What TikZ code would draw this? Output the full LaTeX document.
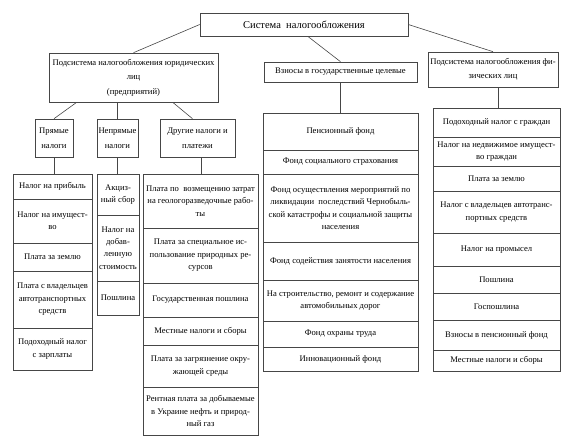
\documentclass[tikz,border=0pt]{standalone}
\usepackage{fontspec}
\setmainfont{Liberation Serif}
\usepackage{tikz}
\usetikzlibrary{positioning, calc}
\definecolor{cL}{RGB}{70,70,70}
\newcommand{\cellfont}{\fontsize{8.6}{12.4}\selectfont}
\newcommand{\headfont}{\fontsize{8.6}{14.5}\selectfont}

\begin{document}
\begin{tikzpicture}[x=1pt, y=-1pt,
    cell/.style={draw=cL, line width=0.6pt, inner sep=0pt, align=center, font=\cellfont},
    head/.style={cell, font=\headfont},
    link/.style={draw=cL, line width=0.6pt}]

    \useasboundingbox (0,0) rectangle (568,446);

    % Top level and the three subsystems
    \node [head, font=\fontsize{10.5}{12}\selectfont, minimum width=208pt, minimum height=23pt] (sys) at (304,24.5) {Система\ \ налогообложения};
    \node [head, minimum width=169pt, minimum height=49pt] (jur) at (133.5,77.5) {Подсистема налогообложения юридических\\лиц\\(предприятий)};
    \node [head, minimum width=153pt, minimum height=20pt] (vz) at (340.5,72) {Взносы в государственные целевые};
    \node [head, minimum width=130pt, minimum height=35pt] (fiz) at (493,69.5) {Подсистема налогообложения фи-\\зических лиц};

    % Second level of the legal-entity branch
    \node [head, minimum width=38pt, minimum height=38pt] (pr) at (54,138) {Прямые\\налоги};
    \node [head, minimum width=41pt, minimum height=38pt] (nepr) at (117.5,138) {Непрямые\\налоги};
    \node [head, minimum width=75pt, minimum height=38pt] (dr) at (197.5,138) {Другие налоги и\\платежи};

    % Columns of cells: index / top / bottom / text
    \foreach \k/\ta/\tb/\lbl in {1/174/199/{Налог на прибыль}, 2/199/243/{Налог на имущест-\\во}, 3/243/271/{Плата за землю}, 4/271/328/{Плата с владельцев\\автотранспортных\\средств}, 5/328/370/{Подоходный налог\\с зарплаты}}
        \node [cell, minimum width=79pt, minimum height={(\tb-\ta)*1pt}] (pr\k) at (52.5,{(\ta+\tb)/2}) {\lbl};

    \foreach \k/\ta/\tb/\lbl in {1/174/215/{Акциз-\\ный сбор}, 2/215/281/{Налог на\\добав-\\ленную\\стоимость}, 3/281/315/{Пошлина}}
        \node [cell, minimum width=42pt, minimum height={(\tb-\ta)*1pt}] (nepr\k) at (118,{(\ta+\tb)/2}) {\lbl};

    \foreach \k/\ta/\tb/\lbl in {1/174/228/{Плата по\ \ возмещению затрат\\на геологоразведочные рабо-\\ты}, 2/228/283/{Плата за специальное ис-\\пользование природных ре-\\сурсов}, 3/283/317/{Государственная пошлина}, 4/317/345/{Местные налоги и сборы}, 5/345/387/{Плата за загрязнение окру-\\жающей среды}, 6/387/435/{Рентная плата за добываемые\\в Украине нефть и природ-\\ный газ}}
        \node [cell, minimum width=115pt, minimum height={(\tb-\ta)*1pt}] (dr\k) at (200.5,{(\ta+\tb)/2}) {\lbl};

    \foreach \k/\ta/\tb/\lbl in {1/113/150/{Пенсионный фонд}, 2/150/174/{Фонд социального страхования}, 3/174/242/{Фонд осуществления мероприятий по\\ликвидации\ \ последствий Чернобыль-\\ской катастрофы и социальной защиты\\населения}, 4/242/280/{Фонд содействия занятости населения}, 5/280/321/{На строительство, ремонт и содержание\\автомобильных дорог}, 6/321/347/{Фонд охраны труда}, 7/347/371/{Инновационный фонд}}
        \node [cell, minimum width=155pt, minimum height={(\tb-\ta)*1pt}] (vz\k) at (340.5,{(\ta+\tb)/2}) {\lbl};

    \foreach \k/\ta/\tb/\lbl in {1/108/137/{Подоходный налог с граждан}, 2/137/166/{Налог на недвижимое имущест-\\во граждан}, 3/166/191/{Плата за землю}, 4/191/233/{Налог с владельцев автотранс-\\портных средств}, 5/233/266/{Налог на промысел}, 6/266/293/{Пошлина}, 7/293/320/{Госпошлина}, 8/320/350/{Взносы в пенсионный фонд}, 9/350/371/{Местные налоги и сборы}}
        \node [cell, minimum width=127pt, minimum height={(\tb-\ta)*1pt}] (fiz\k) at (496.5,{(\ta+\tb)/2}) {\lbl};

    % Connectors
    \draw [link] (sys.west) -- (jur.north);
    \draw [link] ([xshift=108pt]sys.south west) -- (vz.north);
    \draw [link] (sys.east) -- (fiz.north);

    \draw [link] ([xshift=28pt]jur.south west) -- (pr.north);
    \draw [link] (nepr.north |- jur.south) -- (nepr.north);
    \draw [link] ([xshift=124pt]jur.south west) -- ([xshift=-5pt]dr.north);

    \draw [link] (pr.south) -- (pr.south |- pr1.north);
    \draw [link] (nepr.south) -- (nepr.south |- nepr1.north);
    \draw [link] ([xshift=4pt]dr.south) -- ([xshift=4pt]dr.south |- dr1.north);
    \draw [link] (vz.south) -- (vz.south |- vz1.north);
    \draw [link] ([xshift=5pt]fiz.south) -- ([xshift=5pt]fiz.south |- fiz1.north);
\end{tikzpicture}
\end{document}
